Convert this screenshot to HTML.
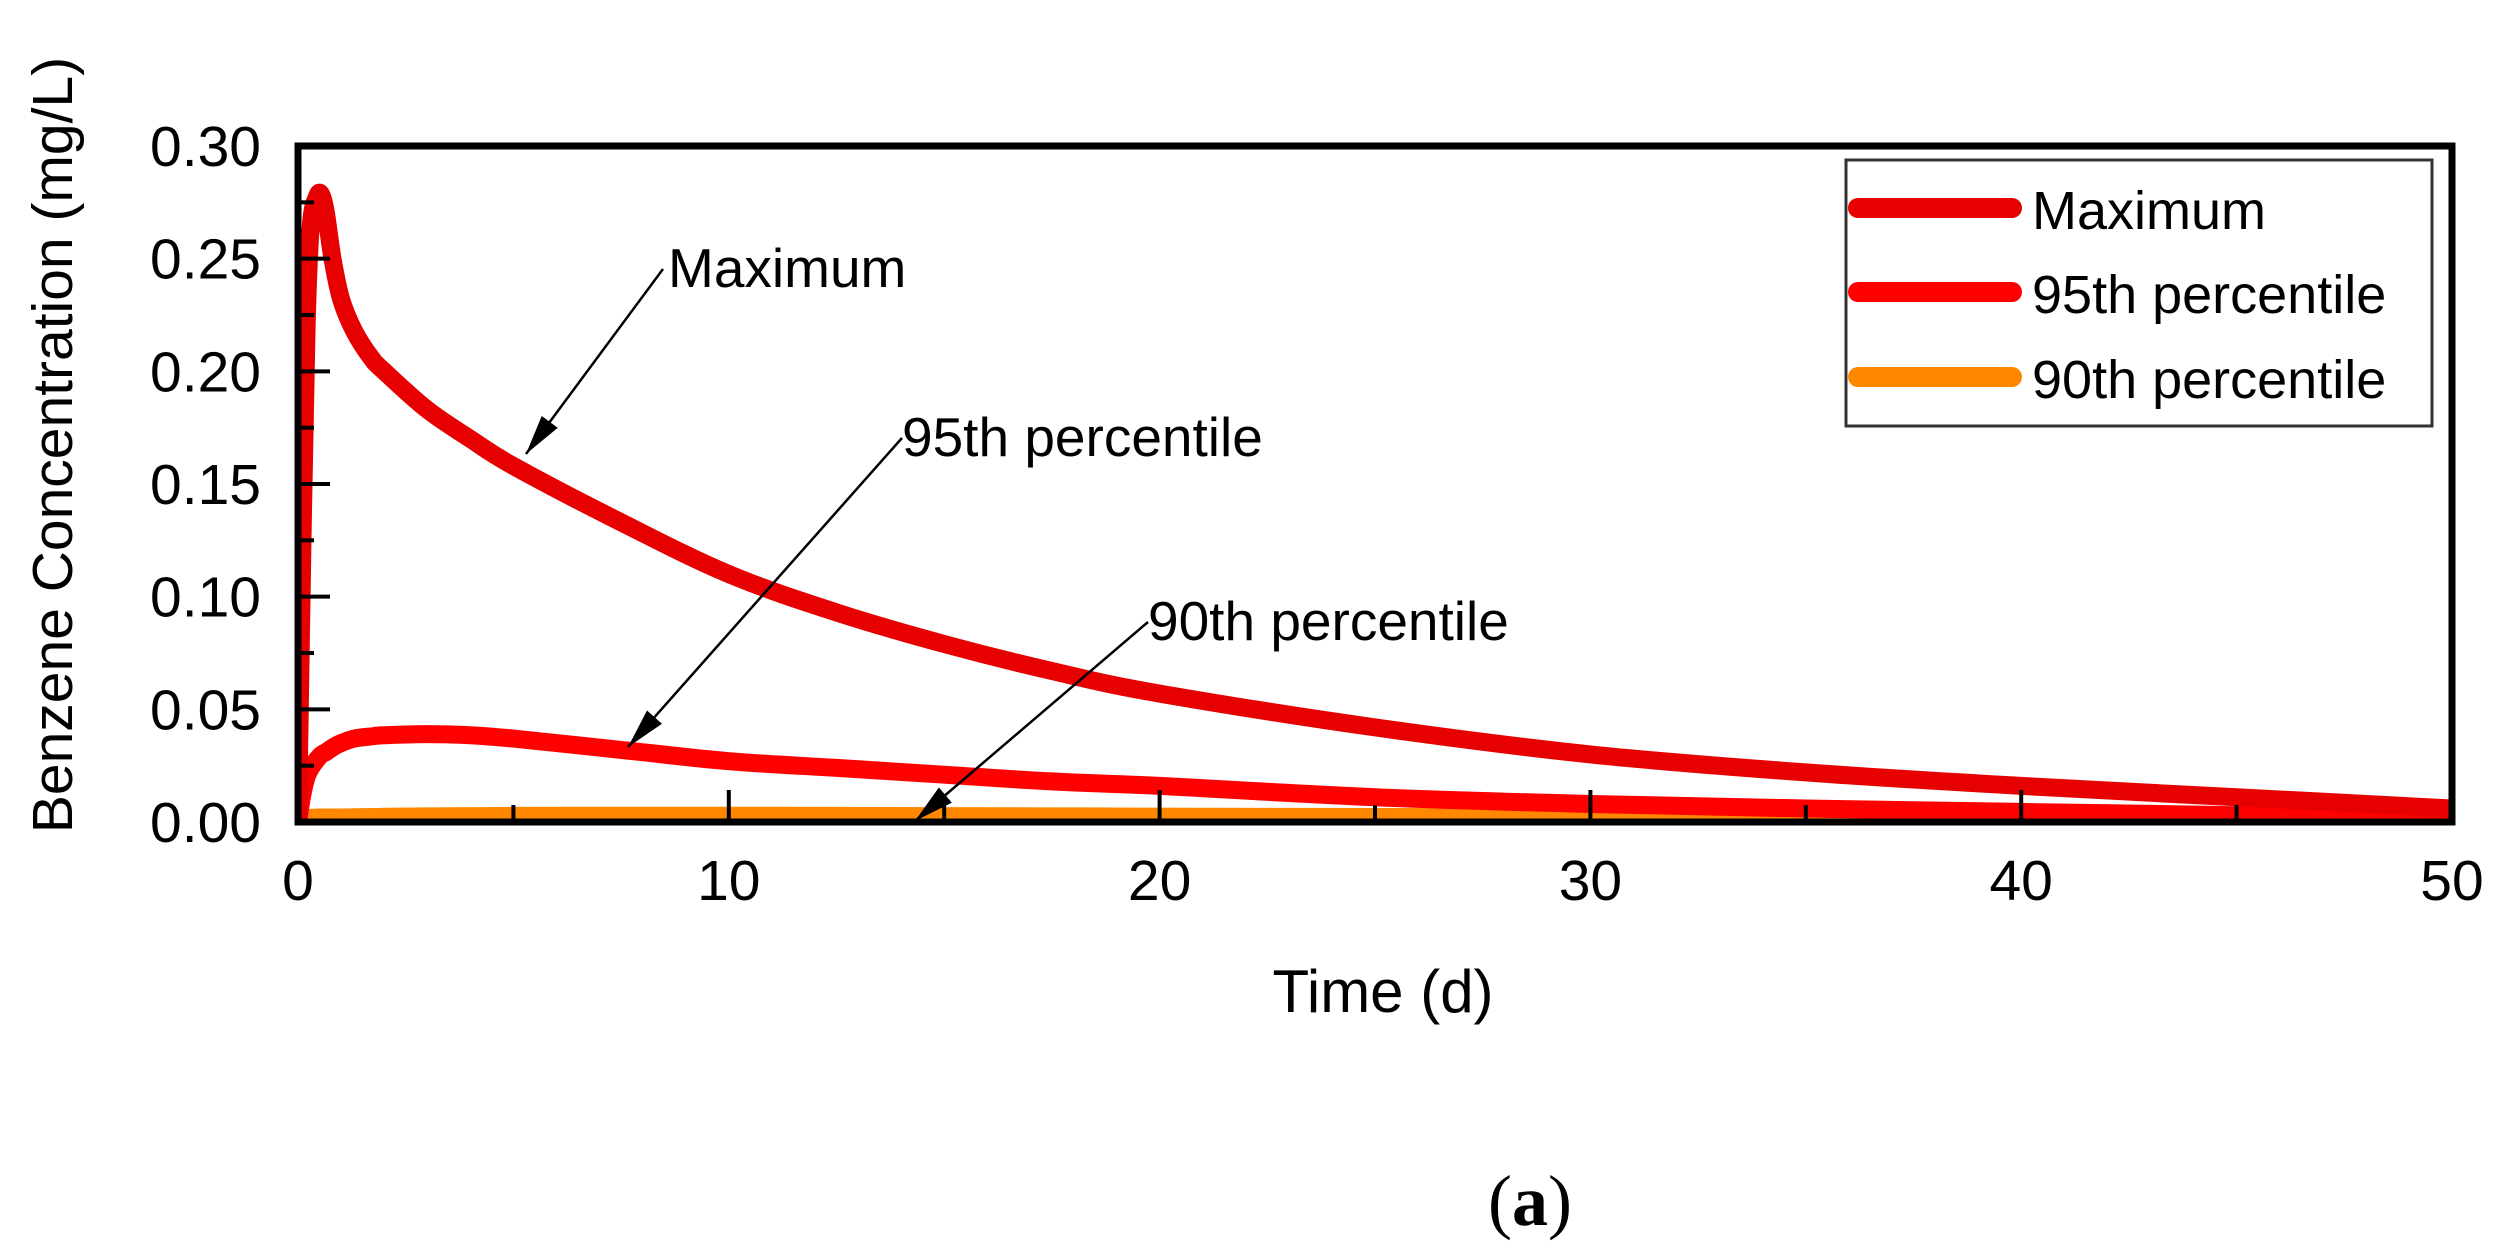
<!DOCTYPE html>
<html><head><meta charset="utf-8"><style>
html,body{margin:0;padding:0;background:#fff;width:2512px;height:1253px;overflow:hidden}
svg text{font-family:"Liberation Sans",Arial,sans-serif}
</style></head><body>
<svg id="chart" width="2512" height="1253" viewBox="0 0 2512 1253" xmlns="http://www.w3.org/2000/svg">
<g id="series"></g>
<g id="axes"></g>
<g>
  <text x="668" y="287" font-size="55">Maximum</text>
  <text x="902" y="456" font-size="55">95th percentile</text>
  <text x="1148" y="640" font-size="55">90th percentile</text>
  <defs>
  <marker id="ahb" viewBox="0 0 40 20" refX="40" refY="10" markerWidth="40" markerHeight="20" orient="auto" markerUnits="userSpaceOnUse"><path d="M0,0 L40,10 L0,20 z" fill="#000"/></marker></defs>
  <line x1="663" y1="269" x2="526" y2="454" stroke="#000" stroke-width="2.5" marker-end="url(#ahb)"/>
  <line x1="902" y1="438" x2="628" y2="747" stroke="#000" stroke-width="2.5" marker-end="url(#ahb)"/>
  <line x1="1148" y1="622" x2="915" y2="821" stroke="#000" stroke-width="2.5" marker-end="url(#ahb)"/>
</g>
<g>
  <rect x="1846" y="160" width="586" height="266" fill="#fff" stroke="#333" stroke-width="3"/>
  <line x1="1858" y1="208" x2="2012" y2="208" stroke="#e60000" stroke-width="20" stroke-linecap="round"/>
  <text x="2032" y="229" font-size="54">Maximum</text>
  <line x1="1858" y1="292" x2="2012" y2="292" stroke="#ff0000" stroke-width="20" stroke-linecap="round"/>
  <text x="2032" y="313" font-size="54">95th percentile</text>
  <line x1="1858" y1="377" x2="2012" y2="377" stroke="#ff8800" stroke-width="20" stroke-linecap="round"/>
  <text x="2032" y="398" font-size="54">90th percentile</text>
</g>
<text transform="translate(72,445) rotate(-90)" text-anchor="middle" font-size="57">Benzene Concentration (mg/L)</text>
<text x="1383" y="1012" text-anchor="middle" font-size="60">Time (d)</text>
<text x="1530" y="1225" text-anchor="middle" font-size="72" style="font-family:'Liberation Serif',serif">(<tspan font-weight="bold">a</tspan>)</text>
</svg>
<script>
const xTicks=[0,10,20,30,40,50];
const yTicks=[0.00,0.05,0.10,0.15,0.20,0.25,0.30];
const yTickLabels=["0.00","0.05","0.10","0.15","0.20","0.25","0.30"];
const times=[0,0.1,0.2,0.3,0.45,0.55,0.65,0.8,1,1.3,1.7,2,3,4,5,7.5,10,12.5,15,17.5,20,25,30,35,40,45,50];
const maxVals=[0,0.12,0.22,0.265,0.278,0.278,0.27,0.25,0.232,0.218,0.206,0.2,0.183,0.17,0.158,0.133,0.11,0.093,0.079,0.067,0.057,0.042,0.03,0.022,0.016,0.011,0.006];
const p95Vals=[0,0.012,0.02,0.024,0.028,0.03,0.031,0.033,0.035,0.037,0.038,0.0385,0.039,0.0385,0.037,0.032,0.027,0.024,0.021,0.018,0.016,0.011,0.008,0.006,0.0045,0.003,0.002];
const p90Vals=[0,0.001,0.0015,0.0018,0.002,0.002,0.002,0.002,0.002,0.0021,0.0022,0.0023,0.0025,0.0026,0.0027,0.0028,0.0028,0.0027,0.0026,0.0025,0.0024,0.0022,0.002,0.0018,0.0016,0.0014,0.0012];
const X0=298,X1=2452,Y0=822,Y1=146;
function sx(v){return X0+(v-0)/(50-0)*(X1-X0);}
function sy(v){return Y0-(v-0)/(0.30-0)*(Y0-Y1);}
const NS="http://www.w3.org/2000/svg";
const sg=document.getElementById('series'), ag=document.getElementById('axes');
function mk(tag,attrs,parent){const e=document.createElementNS(NS,tag);for(const k in attrs)e.setAttribute(k,attrs[k]);parent.appendChild(e);return e;}
const clip=mk('clipPath',{id:'pc'},sg);mk('rect',{x:X0,y:Y1-20,width:X1-X0,height:Y0-Y1+20},clip);
function smoothPath(p){
  let d='M'+p[0][0].toFixed(1)+','+p[0][1].toFixed(1);
  for(let i=0;i<p.length-1;i++){
    const a=p[Math.max(i-1,0)],b=p[i],c=p[i+1],e=p[Math.min(i+2,p.length-1)];
    const c1=[b[0]+(c[0]-a[0])/6,b[1]+(c[1]-a[1])/6],c2=[c[0]-(e[0]-b[0])/6,c[1]-(e[1]-b[1])/6];
    d+=' C'+c1[0].toFixed(1)+','+c1[1].toFixed(1)+' '+c2[0].toFixed(1)+','+c2[1].toFixed(1)+' '+c[0].toFixed(1)+','+c[1].toFixed(1);
  }
  return d;
}
function series(vals,color,name){
  const pts=times.map((t,i)=>[sx(t),sy(vals[i])]);
  const p=mk('path',{d:smoothPath(pts),fill:'none',stroke:color,'stroke-width':18,'stroke-linejoin':'round','stroke-linecap':'round','clip-path':'url(#pc)'},sg);
  
  
}
series(p90Vals,'#ff8800','line-90th-percentile');
series(p95Vals,'#ff0000','line-95th-percentile');
series(maxVals,'#e60000','line-maximum');
const fr=mk('rect',{x:X0,y:Y1,width:X1-X0,height:Y0-Y1,fill:'none',stroke:'#000','stroke-width':7},ag);


yTicks.forEach((v,i)=>{
  const l=mk('line',{x1:X0,x2:X0+32,y1:sy(v),y2:sy(v),stroke:'#000','stroke-width':4},ag);
  
  
  if(i<yTicks.length-1){const m=mk('line',{x1:X0,x2:X0+16,y1:sy(v+0.025),y2:sy(v+0.025),stroke:'#000','stroke-width':4},ag);
  
  }
  const t=mk('text',{x:261,y:sy(v)+20,'text-anchor':'end','font-size':57},ag);t.textContent=yTickLabels[i];
  
  
});
xTicks.forEach((v,i)=>{
  const l=mk('line',{x1:sx(v),x2:sx(v),y1:Y0,y2:Y0-32,stroke:'#000','stroke-width':4},ag);
  
  
  if(i<xTicks.length-1){const m=mk('line',{x1:sx(v+5),x2:sx(v+5),y1:Y0,y2:Y0-17,stroke:'#000','stroke-width':4},ag);
  
  }
  const t=mk('text',{x:sx(v),y:900,'text-anchor':'middle','font-size':57},ag);t.textContent=String(v);
  
  
});
</script>
</body></html>
